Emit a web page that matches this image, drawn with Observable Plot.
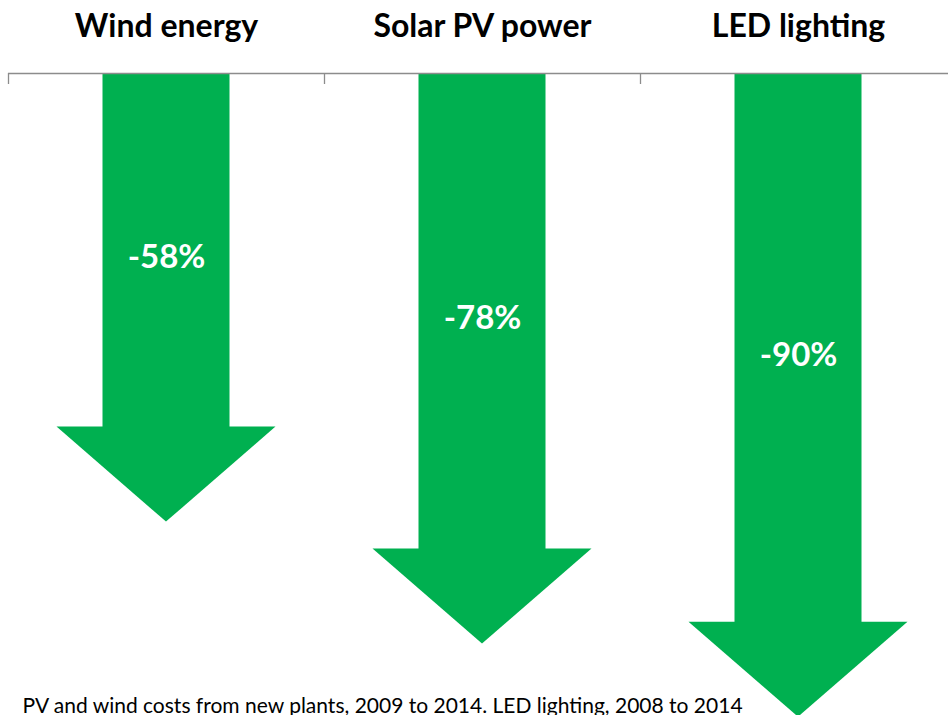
<!DOCTYPE html>
<html>
<head>
<meta charset="utf-8">
<script src="https://cdn.jsdelivr.net/npm/d3@7"></script>
<script src="https://cdn.jsdelivr.net/npm/@observablehq/plot@0.6"></script>
<style>
  html, body { margin: 0; padding: 0; background: #fff; overflow: hidden; }
  #chart svg { display: block; }
</style>
</head>
<body>
<div id="chart"></div>
<script>
// ---- data ----
const categories = ["Wind energy", "Solar PV power", "LED lighting"];
const changes = [-58, -78, -90];
const labels = ["-58%", "-78%", "-90%"];
const caption = "PV and wind costs from new plants, 2009 to 2014. LED lighting, 2008 to 2014";

// ---- layout / style ----
const W = 948, H = 715, mTop = 73, mLeft = 8;
const green = "#00B050";
const gray = "#8c8c8c";
const font = "Lato, 'Open Sans', sans-serif";
const yMin = -105.3;                       // bottom of frame in data units
const pxPerY = (H - mTop) / (0 - yMin);    // pixels per percentage point
const bandPx = 316;                        // pixels per category
const xMax = -0.5 + (W - mLeft) / bandPx;
const shaftHalf = 63.5 / bandPx;
const headHalf = 109.5 / bandPx;
const headLen = 95 / pxPerY;
const tickLen = 11 / pxPerY;

const idx = categories.map((_, i) => i);
const heads = idx.flatMap(i => [
  {c: categories[i], x: i - headHalf, y1: changes[i], y2: changes[i]},
  {c: categories[i], x: i,            y1: changes[i], y2: changes[i] - headLen},
  {c: categories[i], x: i + headHalf, y1: changes[i], y2: changes[i]}
]);

const chart = Plot.plot({
  width: W,
  height: H,
  marginTop: mTop,
  marginLeft: mLeft,
  marginRight: 0,
  marginBottom: 0,
  style: {fontFamily: font, background: "#fff"},
  x: {type: "linear", domain: [-0.5, xMax], axis: null},
  y: {domain: [yMin, 0], axis: null},
  marks: [
    // shafts
    Plot.rect(idx, {
      x1: i => i - shaftHalf, x2: i => i + shaftHalf,
      y1: 0, y2: i => changes[i] - 1,
      fill: green
    }),
    // heads
    Plot.areaY(heads, {x: "x", y1: "y1", y2: "y2", z: "c", fill: green, curve: "linear"}),
    // baseline + ticks
    Plot.ruleY([0], {stroke: gray, strokeWidth: 1.3}),
    Plot.ruleX([-0.5, 0.5, 1.5], {x: d => d, y1: 0, y2: -tickLen, stroke: gray, strokeWidth: 1.3}),
    // titles
    Plot.text(idx, {
      x: i => i, text: i => categories[i],
      frameAnchor: "top", lineAnchor: "bottom", dy: -37,
      fontSize: 32, fontWeight: "bold", fill: "#000", fontFamily: font
    }),
    // value labels
    Plot.text(idx, {
      x: i => i, y: i => changes[i] / 2, text: i => labels[i],
      lineAnchor: "bottom", dy: 18,
      fontSize: 33, fontWeight: "bold", fill: "#fff", fontFamily: font
    }),
    // caption
    Plot.text([caption], {
      text: d => d, frameAnchor: "bottom-left", textAnchor: "start", lineAnchor: "bottom",
      dx: 14, dy: -3, fontSize: 21, fill: "#000", fontFamily: font
    })
  ]
});
document.getElementById("chart").appendChild(chart);
</script>
</body>
</html>
